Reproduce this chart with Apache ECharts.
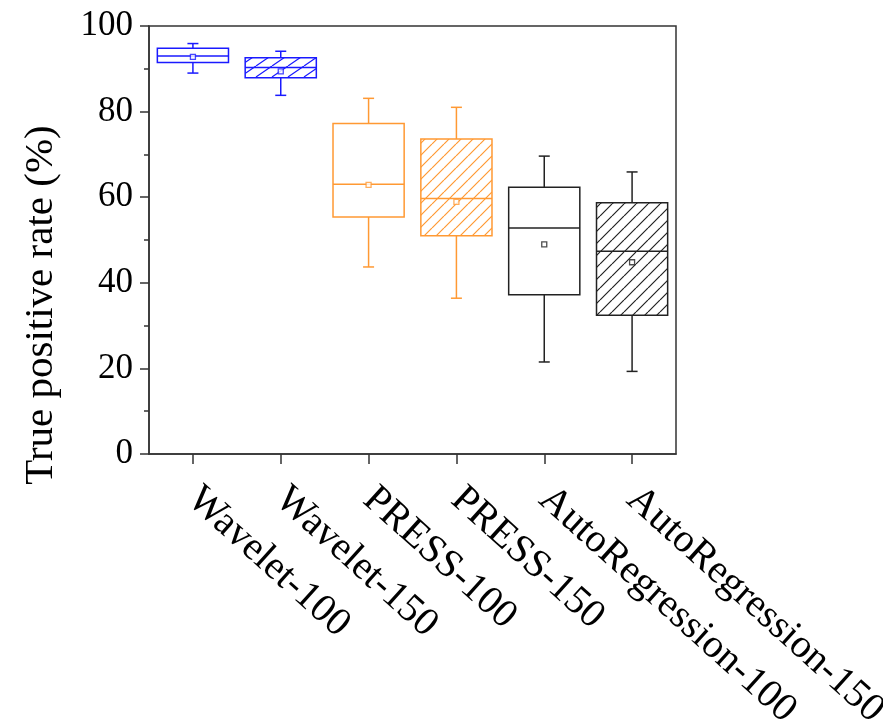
<!DOCTYPE html>
<html>
<head>
<meta charset="utf-8">
<script src="https://cdn.jsdelivr.net/npm/echarts@6/dist/echarts.min.js"></script>
<style>html,body{margin:0;padding:0;background:#fff;}#c{width:883px;height:724px;}</style>
</head>
<body>
<div id="c"></div>
<script>
const categories = ['Wavelet-100','Wavelet-150','PRESS-100','PRESS-150','AutoRegression-100','AutoRegression-150'];
// [min, Q1, median, Q3, max]
const boxValues = [
  [89.0, 91.5, 93.0, 94.8, 95.9],
  [83.8, 87.9, 90.3, 92.6, 94.1],
  [43.7, 55.4, 63.0, 77.2, 83.1],
  [36.4, 51.0, 59.7, 73.6, 81.0],
  [21.5, 37.2, 52.8, 62.3, 69.6],
  [19.3, 32.4, 47.4, 58.7, 65.9]
];
const means = [92.8, 89.4, 62.9, 58.9, 49.0, 44.8];
const hatched = [false, true, false, true, false, true];
const colors = ['#1a1aff','#1a1aff','#ff9933','#ff9933','#222222','#222222'];
const yTicks = [0, 20, 40, 60, 80, 100];

function makePattern(color, w, h) {
  const c = document.createElement('canvas');
  c.width = w; c.height = h;
  const ctx = c.getContext('2d');
  ctx.fillStyle = '#fff';
  ctx.fillRect(0,0,w,h);
  ctx.strokeStyle = color;
  ctx.lineWidth = 1.2;
  ctx.beginPath();
  ctx.moveTo(0, h); ctx.lineTo(w, 0);
  ctx.moveTo(-w/2, h/2); ctx.lineTo(0, 0);
  ctx.moveTo(w, h); ctx.lineTo(w + w/2, h/2);
  ctx.stroke();
  return c;
}

const patterns = colors.map((col, i) => {
  if (!hatched[i]) return null;
  return i === 1 ? makePattern(col, 16, 11) : makePattern(col, 12, 12);
});

const boxData = boxValues.map((v, i) => [i].concat(v));
const meanData = means.map((m, i) => ({value: [i, m], itemStyle: {color: '#fff', borderColor: colors[i], borderWidth: 1.3}}));

const chart = echarts.init(document.getElementById('c'));
chart.setOption({
  animation: false,
  backgroundColor: '#fff',
  grid: {left: 149, right: 207, top: 26, bottom: 270, show: true, borderColor: '#333', borderWidth: 1.5, backgroundColor: 'transparent', containLabel: false, outerBoundsMode: 'none'},
  xAxis: {
    type: 'category',
    data: categories,
    boundaryGap: true,
    axisLine: {lineStyle: {color: '#333', width: 1.5}},
    axisTick: {show: true, alignWithLabel: true, length: 10, lineStyle: {color: '#333', width: 1.5}},
    axisLabel: {interval: 0, rotate: -42, margin: 40, color: '#000', fontFamily: 'Liberation Serif', fontSize: 40},
    splitLine: {show: false}
  },
  yAxis: {
    type: 'value',
    min: 0, max: 100, interval: 20,
    name: 'True positive rate (%)',
    nameLocation: 'middle',
    nameGap: 87,
    nameRotate: 90,
    nameTextStyle: {fontFamily: 'Liberation Serif', fontSize: 41, color: '#000', padding: [0, 130, 0, 0]},
    axisLine: {show: true, lineStyle: {color: '#333', width: 1.5}},
    axisTick: {show: true, length: 9, lineStyle: {color: '#333', width: 1.5}},
    minorTick: {show: true, splitNumber: 2, length: 5, lineStyle: {color: '#333', width: 1.5}},
    axisLabel: {margin: 16, color: '#000', fontFamily: 'Liberation Serif', fontSize: 35, formatter: v => yTicks.includes(v) ? String(v) : ''},
    splitLine: {show: false}
  },
  series: [
    {
      type: 'custom',
      data: boxData,
      encode: {x: 0, y: [1, 2, 3, 4, 5]},
      renderItem: function (params, api) {
        const i = api.value(0);
        const col = colors[i];
        const pMin = api.coord([i, api.value(1)]);
        const pQ1 = api.coord([i, api.value(2)]);
        const pMed = api.coord([i, api.value(3)]);
        const pQ3 = api.coord([i, api.value(4)]);
        const pMax = api.coord([i, api.value(5)]);
        const cx = pMed[0];
        const bw = api.size([1, 0])[0] * 0.81;
        const cap = 5.5;
        const ls = {stroke: col, lineWidth: 1.5, fill: null};
        const fill = patterns[i] ? {image: patterns[i], repeat: 'repeat'} : '#fff';
        return {
          type: 'group',
          children: [
            {type: 'line', shape: {x1: cx, y1: pQ3[1], x2: cx, y2: pMax[1]}, style: ls},
            {type: 'line', shape: {x1: cx, y1: pQ1[1], x2: cx, y2: pMin[1]}, style: ls},
            {type: 'line', shape: {x1: cx - cap, y1: pMax[1], x2: cx + cap, y2: pMax[1]}, style: ls},
            {type: 'line', shape: {x1: cx - cap, y1: pMin[1], x2: cx + cap, y2: pMin[1]}, style: ls},
            {type: 'rect', shape: {x: cx - bw / 2, y: pQ3[1], width: bw, height: pQ1[1] - pQ3[1]}, style: {fill: fill, stroke: col, lineWidth: 1.5}},
            {type: 'line', shape: {x1: cx - bw / 2, y1: pMed[1], x2: cx + bw / 2, y2: pMed[1]}, style: ls}
          ]
        };
      },
      z: 2
    },
    {
      type: 'scatter',
      data: meanData,
      symbol: 'rect',
      symbolSize: 5,
      z: 3
    }
  ]
});
</script>
</body>
</html>
